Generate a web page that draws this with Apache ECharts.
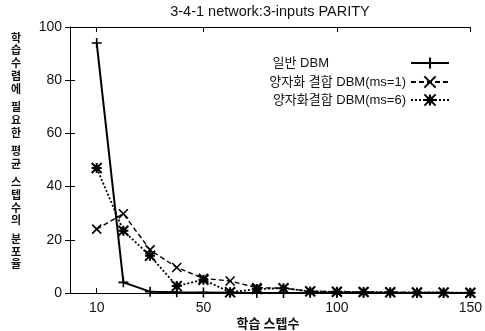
<!DOCTYPE html>
<html>
<head>
<meta charset="utf-8">
<script src="https://cdn.jsdelivr.net/npm/echarts@6/dist/echarts.min.js"></script>
<style>html,body{margin:0;padding:0;background:#fff}#c{width:485px;height:331px}</style>
</head>
<body>
<div id="c"></div>
<script>
const titleText = '3-4-1 network:3-inputs PARITY';
const xName = '학습 스텝수';
const yNameLines = ['학','습','수','렴','에',' ','필','요','한',' ','평','균',' ','스','텝','수','의',' ','분','포','율'];
const steps = [10,20,30,40,50,60,70,80,90,100,110,120,130,140,150];
const seriesNames = ['일반 DBM','양자화 결합 DBM(ms=1)','양자화결합 DBM(ms=6)'];
const plainDBM = [94,4,0.5,0.3,0.2,0.1,0,0,0,0,0,0,0,0,0];
const quantMs1 = [24,29.8,16.2,9.6,5.5,4.5,2,1.8,0.6,0.5,0.4,0.3,0.2,0.2,0.1];
const quantMs6 = [47,23.4,14,2.6,5,0.3,1.5,1.8,0.6,0.5,0.4,0.3,0.2,0.2,0.1];
const xTickValues = [10,50,100,150];
const yMin = 0, yMax = 100, yStep = 20;

const pair = arr => steps.map((s,i)=>[s,arr[i]]);
const plusPath = 'path://M5,0V10M0,5H10';
const crossPath = 'path://M0,0L10,10M10,0L0,10';
const starPath = 'path://M0,0L10,10M10,0L0,10M5,0V10M0,5H10M3,3H7V7H3Z';
const latin = '"Liberation Sans", "Noto Sans CJK KR", sans-serif';
const kr = '"Noto Sans CJK KR", "Liberation Sans", sans-serif';

const chart = echarts.init(document.getElementById('c'), null, {renderer:'canvas'});
const axisCommon = {
  type:'value', min:0, max:150,
  axisLine:{show:true, onZero:false, lineStyle:{color:'#000', width:1}},
  axisTick:{show:true, inside:true, length:5, customValues:xTickValues, lineStyle:{color:'#000'}},
  splitLine:{show:false}
};
const legendCommon = {
  orient:'vertical', align:'right', right:35, itemWidth:38, itemHeight:14,
  selectedMode:false, padding:0,
  textStyle:{fontSize:13, fontFamily:latin, color:'#111', lineHeight:14}
};
chart.setOption({
  animation:false,
  backgroundColor:'#fff',
  grid:{left:70, right:13, top:27, bottom:38, show:false},
  xAxis:[
    Object.assign({}, axisCommon, {position:'bottom',
      axisLabel:{show:true, customValues:xTickValues, fontSize:14, fontFamily:latin, color:'#111', margin:8}}),
    Object.assign({}, axisCommon, {position:'top', axisLabel:{show:false}})
  ],
  yAxis:[
    {type:'value', min:yMin, max:yMax, interval:yStep, position:'left',
     axisLine:{show:true, lineStyle:{color:'#000'}},
     axisTick:{show:true, inside:true, length:5, lineStyle:{color:'#000'}},
     axisLabel:{fontSize:14, fontFamily:latin, color:'#111', margin:8},
     splitLine:{show:false}},
    {type:'value', min:yMin, max:yMax, interval:yStep, position:'right',
     axisLine:{show:true, lineStyle:{color:'#000'}},
     axisTick:{show:true, inside:true, length:5, lineStyle:{color:'#000'}},
     axisLabel:{show:false}, splitLine:{show:false}}
  ],
  legend:[
    Object.assign({}, legendCommon, {top:56, data:[{name:seriesNames[0], textStyle:{padding:[0,77,0,0]}}]}),
    Object.assign({}, legendCommon, {top:75, data:[seriesNames[1]]}),
    Object.assign({}, legendCommon, {top:93, data:[seriesNames[2]]})
  ],
  series:[
    {name:seriesNames[0], type:'line', data:pair(plainDBM), symbol:plusPath, symbolSize:10,
     lineStyle:{color:'#000', width:2}, itemStyle:{color:'#000', borderColor:'#000', borderWidth:1.6}, z:3},
    {name:seriesNames[1], type:'line', data:pair(quantMs1), symbol:crossPath, symbolSize:9,
     lineStyle:{color:'#000', width:1.4, type:[5,3]}, itemStyle:{color:'#000', borderColor:'#000', borderWidth:1.6}, z:2},
    {name:seriesNames[2], type:'line', data:pair(quantMs6), symbol:starPath, symbolSize:10,
     lineStyle:{color:'#000', width:1.8, type:[2,2]}, itemStyle:{color:'#000', borderColor:'#000', borderWidth:2}, z:2}
  ],
  graphic:[
    {type:'text', style:{x:270, y:12, text:titleText, align:'center', verticalAlign:'middle',
      fontSize:14.5, fontFamily:latin, fill:'#111'}},
    {type:'text', style:{x:268, y:323, text:xName, align:'center', verticalAlign:'middle',
      fontSize:13, fontWeight:'bold', fontFamily:kr, fill:'#111'}},
    {type:'text', style:{x:16, y:31, align:'center', verticalAlign:'top',
      text:yNameLines.map(c => c === ' ' ? '{s| }' : c).join('\n'),
      fontSize:11, fontWeight:'bold', fontFamily:kr, fill:'#111', lineHeight:12.8,
      rich:{s:{fontSize:5, lineHeight:5.5}}}}
  ]
});
</script>
</body>
</html>
